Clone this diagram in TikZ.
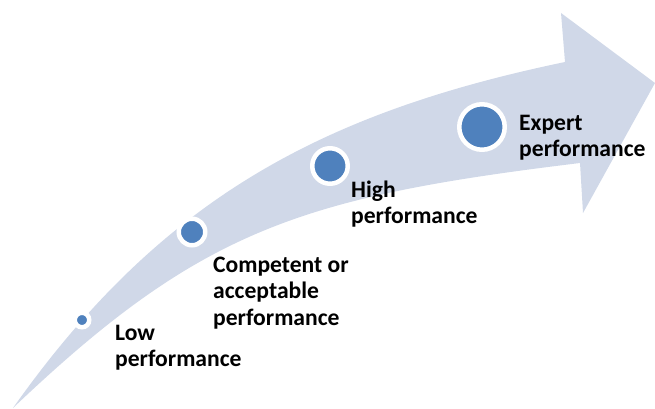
\documentclass[tikz,border=0pt]{standalone}
\usepackage{fontspec}
\setmainfont{Carlito}
\definecolor{arrowfill}{RGB}{208,216,232}
\definecolor{dotblue}{RGB}{79,129,189}
\tikzset{
    milestone/.style={circle, fill=dotblue, draw=white, line width=4.5pt, inner sep=0pt},
    stagelabel/.style={anchor=base west, inner sep=0pt, font=\fontsize{23.6}{26.5}\selectfont\bfseries}
}

\begin{document}
\begin{tikzpicture}[x=1pt,y=-1pt]
    \useasboundingbox (0,0) rectangle (655,409);

    % the big curved arrow
    \fill[arrowfill] (13,408) .. controls (160,200) and (320,113) .. (565,62)
        -- (561,13) -- (655,83) -- (583,213) -- (580,163)
        .. controls (300,197) and (200,230) .. (13,408) -- cycle;

    \node[milestone, minimum size=14.5pt] (LOW) at (82,320) {};
    \node[milestone, minimum size=26.5pt] (COMPETENT) at (192,232) {};
    \node[milestone, minimum size=35.5pt] (HIGH) at (330,166) {};
    \node[milestone, minimum size=45.5pt] (EXPERT) at (482,127) {};

    \node[stagelabel] (LOWTEXT) at (115,340) {\begin{tabular}[t]{@{}l@{}}Low\\performance\end{tabular}};
    \node[stagelabel] (COMPETENTTEXT) at (213,272) {\begin{tabular}[t]{@{}l@{}}Competent or\\acceptable\\performance\end{tabular}};
    \node[stagelabel] (HIGHTEXT) at (351,197) {\begin{tabular}[t]{@{}l@{}}High\\performance\end{tabular}};
    \node[stagelabel] (EXPERTTEXT) at (519,130) {\begin{tabular}[t]{@{}l@{}}Expert\\performance\end{tabular}};

    % \draw[help lines] (0,0) grid[step=50] (655,409);
\end{tikzpicture}
\end{document}
